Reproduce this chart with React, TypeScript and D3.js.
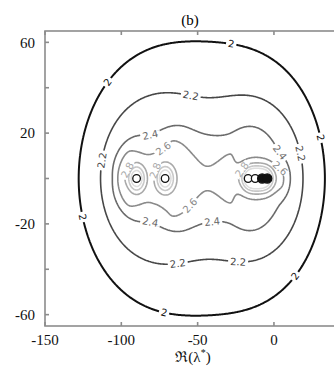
import { useMemo } from "react";
import * as d3 from "d3";

// eigenvalue markers (Re, Im)
const sourceRe = [-90, -71.3, -16.9, -12.3, -7.7, -4.4];
const sourceIm = [0, 0, 0, 0, 0, 0];
const sourceFilled = [false, false, false, false, true, true];

// points (upper half, mirrored below)
const anchorLevel = [
  2, 2, 2, 2, 2, 2, 2, 2, 2, 2, 2, 2,
  2.2, 2.2, 2.2, 2.2, 2.2, 2.2, 2.2, 2.2,
  2.4, 2.4, 2.4, 2.4, 2.4, 2.4, 2.4,
  2.6, 2.6, 2.6, 2.6, 2.6, 2.6, 2.6,
  2.7,
  2.8, 2.8, 2.8, 2.8, 2.8, 2.8, 2.8, 2.8, 2.8, 2.8,
];
const anchorRe = [
  -48.4, -50.3, -127, 31.6, -108.7, -28.7, 30.3, 10.7, -71.3, -127, -125.8, 23.7,
  -54.9, -115.9, -115.9, 19.2, 17.2, -63.4, -23.4, 4,
  -80.5, -28.7, -105.4, 10.7, -81.2, -40.5, 2.8,
  -72.6, -102.1, -41.8, 6.1, 4.1, -79.8, -54.9,
  -80.6,
  -99.5, -95.6, -77.9, -63.5, -89.7, -71.3, -24.1, 2.1, -11, -20.8,
];
const anchorIm = [
  57.5, 58, 0, 0, 42.5, 56.5, 17.8, 41.6, 56.6, 17, 25.7, 30.1,
  35.5, 0, 8.1, 0, 11.2, 35, 34.6, 34.5,
  18.3, 19.6, 0, 0, 19.1, 19.1, 11.2,
  13.4, 0, 5.9, 0, 4.6, 11.5, 11.7,
  0,
  0, 3.7, 3.7, 0, 7.3, 7.3, 0, 0, 7, 3.7,
];

const levels = [2, 2.2, 2.4, 2.6, 2.8, 3.0, 3.2];
const levelColor = ["#111111", "#474747", "#6a6a6a", "#8a8a8a", "#a9a9a9", "#c8c8c8", "#dddddd"];

// inline contour labels: level and approximate place
const labelLevel = [2, 2, 2, 2, 2, 2, 2.2, 2.2, 2.2, 2.2, 2.2, 2.4, 2.4, 2.4, 2.4, 2.6, 2.6, 2.6, 2.8, 2.8, 2.8];
const labelRe = [-108.7, -28.7, 30.3, -127, -71.3, 10.7, -54.9, -115.9, 17.2, -63.4, -23.4, -80.5, 2.8, -81.2, -40.5, -72.6, 4.1, -54.9, -95.6, -77.9, -20.8];
const labelIm = [42.5, 56.5, 17.8, -17, -56.6, -41.6, 35.5, 8.1, 11.2, -35, -34.6, 18.3, 11.2, -19.1, -19.1, 13.4, 4.6, -11.7, 3.7, 3.7, 3.7];

const xTicks = [-150, -100, -50, 0];
const yTicks = [60, 40, 20, 0, -20, -40, -60];
const yTickLabels = [60, 20, -20, -60];

// field model parameters
const broadWeight = [1, 1, 0.45, 0.45, 0.45, 0.45];
const bumpHeight = [0.83, 0.83, 0.7, 0.7, 0.5, 0.5];
const bumpWidth = 3.8;
const imStretch = 0.9;
const broadSoft = 12;
const plateau = 2.68;
const smoothing = 0.003;

function parts(x: number, y: number) {
  let fb = 0;
  let bump = 0;
  for (let i = 0; i < sourceRe.length; i++) {
    const dx = x - sourceRe[i];
    const dy = y - sourceIm[i];
    const d2 = dx * dx + dy * dy;
    fb += broadWeight[i] / Math.sqrt(dx * dx + (imStretch * dy) ** 2 + broadSoft * broadSoft);
    bump += bumpHeight[i] * Math.exp(-d2 / (2 * bumpWidth * bumpWidth));
  }
  return [(100 * fb) ** 2, bump];
}

function solve(A: number[][], b: number[]) {
  const n = b.length;
  for (let c = 0; c < n; c++) {
    let p = c;
    for (let r = c + 1; r < n; r++) if (Math.abs(A[r][c]) > Math.abs(A[p][c])) p = r;
    [A[c], A[p]] = [A[p], A[c]];
    [b[c], b[p]] = [b[p], b[c]];
    for (let r = c + 1; r < n; r++) {
      const f = A[r][c] / A[c][c];
      if (f === 0) continue;
      for (let k = c; k < n; k++) A[r][k] -= f * A[c][k];
      b[r] -= f * b[c];
    }
  }
  const x = new Array(n).fill(0);
  for (let r = n - 1; r >= 0; r--) {
    let s = b[r];
    for (let k = r + 1; k < n; k++) s -= A[r][k] * x[k];
    x[r] = s / A[r][r];
  }
  return x;
}

const softMin = (a: number, b: number, k = 30) => {
  const m = Math.min(a, b);
  return m - Math.log(1 + Math.exp(-k * Math.abs(a - b))) / k;
};

const smoothstep = (e0: number, e1: number, v: number) => {
  const t = Math.max(0, Math.min(1, (v - e0) / (e1 - e0)));
  return t * t * (3 - 2 * t);
};

const U = (r2: number) => (r2 > 0 ? 0.5 * r2 * Math.log(r2) : 0);

function buildField() {
  // mirrored anchor set
  const ax: number[] = [];
  const ay: number[] = [];
  const al: number[] = [];
  anchorLevel.forEach((lv, k) => {
    ax.push(anchorRe[k]);
    ay.push(anchorIm[k]);
    al.push(lv);
    if (anchorIm[k] > 0.5) {
      ax.push(anchorRe[k]);
      ay.push(-anchorIm[k]);
      al.push(lv);
    }
  });

  // straight line fit of the broad part on the two outer levels
  let s0 = 0, s1 = 0, s11 = 0, sy = 0, s1y = 0;
  al.forEach((lv, k) => {
    if (lv > 2.2) return;
    const u = parts(ax[k], ay[k])[0];
    s0 += 1;
    s1 += u;
    s11 += u * u;
    sy += lv;
    s1y += u * lv;
  });
  const B = (s0 * s1y - s1 * sy) / (s0 * s11 - s1 * s1);
  const A0 = (sy - B * s1) / s0;

  const model = (x: number, y: number) => {
    const p = parts(x, y);
    const raw = A0 + B * p[0];
    return { raw, value: softMin(raw, plateau) + p[1] };
  };

  // thin plate spline on the inner residuals, pinned to zero on the outer levels
  const n = al.length;
  const N = n + 3;
  const sx = ax.map((v) => v / 100);
  const sy2 = ay.map((v) => v / 100);
  const M = Array.from({ length: N }, () => new Array(N).fill(0));
  const rhs = new Array(N).fill(0);
  for (let i = 0; i < n; i++) {
    for (let j = 0; j < n; j++) {
      M[i][j] = U((sx[i] - sx[j]) ** 2 + (sy2[i] - sy2[j]) ** 2) + (i === j ? smoothing : 0);
    }
    M[i][n] = 1;
    M[i][n + 1] = sx[i];
    M[i][n + 2] = sy2[i];
    M[n][i] = 1;
    M[n + 1][i] = sx[i];
    M[n + 2][i] = sy2[i];
    rhs[i] = al[i] > 2.2 ? al[i] - model(ax[i], ay[i]).value : 0;
  }
  const w = solve(M, rhs);
  const tps = (x: number, y: number) => {
    const X = x / 100;
    const Y = y / 100;
    let s = w[n] + w[n + 1] * X + w[n + 2] * Y;
    for (let i = 0; i < n; i++) s += w[i] * U((X - sx[i]) ** 2 + (Y - sy2[i]) ** 2);
    return s;
  };
  return (x: number, y: number) => {
    const m = model(x, y);
    const t = smoothstep(2.22, 2.38, m.raw);
    if (t <= 0) return m.value;
    const v = m.value + t * tps(x, y);
    // keep the inner correction from cutting through the 2.2 line
    return m.value >= 2.205 ? Math.max(v, 2.205) : Math.max(v, m.value);
  };
}

export default function App() {
  const width = 334;
  const height = 367;
  const plot = { left: 45, top: 31, right: 335, bottom: 326 };
  const x = d3.scaleLinear().domain([-150, 40]).range([plot.left, plot.right]);
  const y = d3.scaleLinear().domain([-65, 65]).range([plot.bottom, plot.top]);

  const { rings, labels } = useMemo(() => {
    const field = buildField();
    const step = 0.5;
    const nx = Math.round(190 / step) + 1;
    const ny = Math.round(130 / step) + 1;
    const values = new Array(nx * ny);
    for (let j = 0; j < ny; j++) {
      for (let i = 0; i < nx; i++) values[j * nx + i] = field(-150 + i * step, 65 - j * step);
    }
    const polys = d3.contours().size([nx, ny]).thresholds(levels)(values);
    const rings = polys.map((p) =>
      p.coordinates.flatMap((poly) =>
        poly.map((ring) =>
          ring.map(([gx, gy]) => [x(-150 + (gx - 0.5) * step), y(65 - (gy - 0.5) * step)])
        )
      )
    );

    const labels = labelLevel.map((lv, k) => {
      const li = levels.indexOf(lv);
      const tx = x(labelRe[k]);
      const ty = y(labelIm[k]);
      let best = { d: Infinity, ring: [] as number[][], idx: 0 };
      rings[li].forEach((ring) => {
        ring.forEach((pt, idx) => {
          const d = (pt[0] - tx) ** 2 + (pt[1] - ty) ** 2;
          if (d < best.d) best = { d, ring, idx };
        });
      });
      if (!best.ring.length) return null;
      const m = best.ring.length - 1;
      const a = best.ring[(best.idx - 3 + m) % m];
      const c = best.ring[(best.idx + 3) % m];
      let angle = (Math.atan2(c[1] - a[1], c[0] - a[0]) * 180) / Math.PI;
      if (angle > 90) angle -= 180;
      if (angle < -90) angle += 180;
      const p = best.ring[best.idx];
      return { lv, li, x: p[0], y: p[1], angle };
    });
    return { rings, labels };
  }, []);

  const labelWidth = (s: string) => s.replace(".", "").length * 6.4 + (s.includes(".") ? 3.2 : 0) + 4;

  return (
    <svg width={width} height={height} style={{ position: "absolute", left: 0, top: 0, background: "#fff" }}>
      <defs>
        <clipPath id="plotClip">
          <rect x={plot.left} y={plot.top} width={plot.right - plot.left} height={plot.bottom - plot.top} />
        </clipPath>
      </defs>
      <text x={190} y={25} textAnchor="middle" fontFamily="'Liberation Serif', serif" fontSize={15}>(b)</text>

      <g clipPath="url(#plotClip)">
        {rings.map((rs, li) =>
          rs.map((ring, ri) => (
            <path
              key={`${li}-${ri}`}
              d={"M" + ring.map((p) => `${p[0].toFixed(2)},${p[1].toFixed(2)}`).join("L") + "Z"}
              fill="none"
              stroke={levelColor[li]}
              strokeWidth={li === 0 ? 2 : 1.6}
            />
          ))
        )}
        {labels.map((l, k) => {
          if (!l) return null;
          const txt = String(l.lv);
          return (
            <g key={k} transform={`translate(${l.x},${l.y}) rotate(${l.angle})`}>
              <rect x={-labelWidth(txt) / 2} y={-3} width={labelWidth(txt)} height={6} fill="#fff" />
              <text textAnchor="middle" dy="0.35em" fontFamily="'DejaVu Sans', sans-serif" fontSize={10} fill={levelColor[l.li]}>
                {txt}
              </text>
            </g>
          );
        })}
        {sourceRe.map((re, i) => (
          <circle
            key={i}
            cx={x(re)}
            cy={y(sourceIm[i])}
            r={sourceFilled[i] ? 4.6 : 3.8}
            fill={sourceFilled[i] ? "#111" : "#fff"}
            stroke="#111"
            strokeWidth={1.3}
          />
        ))}
      </g>

      <g stroke="#8c8c8c" strokeWidth={1.6} fill="none">
        <rect x={plot.left} y={plot.top} width={plot.right - plot.left} height={plot.bottom - plot.top} />
        {xTicks.map((t) => (
          <g key={t}>
            <line x1={x(t)} x2={x(t)} y1={plot.bottom} y2={plot.bottom - 4} />
            <line x1={x(t)} x2={x(t)} y1={plot.top} y2={plot.top + 4} />
          </g>
        ))}
        {yTicks.map((t) => (
          <line key={t} x1={plot.left} x2={plot.left + 4} y1={y(t)} y2={y(t)} />
        ))}
      </g>
      <g fontFamily="'Liberation Serif', serif" fontSize={15} fill="#111">
        {xTicks.map((t) => (
          <text key={t} x={x(t)} y={345} textAnchor="middle">{t}</text>
        ))}
        {yTickLabels.map((t) => (
          <text key={t} x={35} y={y(t)} dy="0.35em" textAnchor="end">{t}</text>
        ))}
        <text x={193} y={362} textAnchor="middle">
          ℜ(λ<tspan dy={-6} fontSize={10}>*</tspan><tspan dy={6}>)</tspan>
        </text>
      </g>
    </svg>
  );
}
